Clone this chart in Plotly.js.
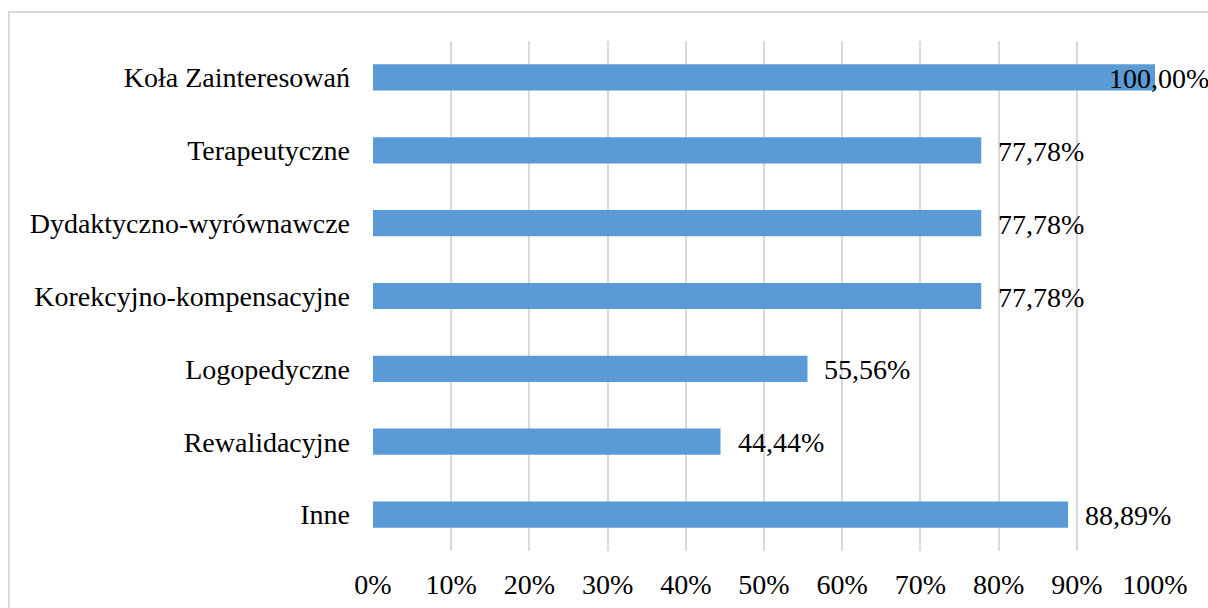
<!DOCTYPE html>
<html>
<head>
<meta charset="utf-8">
<script src="https://cdn.plot.ly/plotly-3.0.1.min.js"></script>
<style>
  html, body { margin: 0; padding: 0; background: #ffffff; }
  #frame { position: absolute; left: 8px; top: 11px; width: 1400px; height: 800px;
           border-left: 2px solid #d9d9d9; border-top: 2px solid #d9d9d9; box-sizing: border-box; }
  #chart { position: absolute; left: 0; top: 0; width: 1208px; height: 608px; }
</style>
</head>
<body>
<div id="frame"></div>
<div id="chart"></div>
<script>
// Categories from bottom to top (Plotly draws first category at the bottom)
const categories = [
  "Inne",
  "Rewalidacyjne",
  "Logopedyczne",
  "Korekcyjno-kompensacyjne",
  "Dydaktyczno-wyrównawcze",
  "Terapeutyczne",
  "Koła Zainteresowań"
];
const values = [88.89, 44.44, 55.56, 77.78, 77.78, 77.78, 100.00];
const valueLabels = ["88,89%", "44,44%", "55,56%", "77,78%", "77,78%", "77,78%", "100,00%"];
const tickValues = [0, 10, 20, 30, 40, 50, 60, 70, 80, 90, 100];
const tickLabels = ["0%", "10%", "20%", "30%", "40%", "50%", "60%", "70%", "80%", "90%", "100%"];

const FONT = "Liberation Serif, Cambria, serif";
const FS = 28;

const trace = {
  type: "bar",
  orientation: "h",
  y: categories,
  x: values,
  marker: { color: "#5b9bd5" },
  hoverinfo: "skip"
};

const annotations = values.map((v, i) => {
  const atEnd = v >= 100;
  return {
    x: v, y: categories[i], xref: "x", yref: "y",
    text: valueLabels[i], showarrow: false,
    xanchor: atEnd ? "center" : "left",
    xshift: atEnd ? 4 : 15,
    yshift: -1,
    font: { family: FONT, size: FS, color: "#000000" }
  };
});

const layout = {
  width: 1208, height: 608,
  margin: { l: 373, r: 53, t: 41, b: 57, pad: 0 },
  paper_bgcolor: "rgba(0,0,0,0)",
  plot_bgcolor: "rgba(0,0,0,0)",
  showlegend: false,
  bargap: 0.64,
  font: { family: FONT, size: FS, color: "#000000" },
  xaxis: {
    range: [0, 100],
    tickmode: "array", tickvals: tickValues, ticktext: tickLabels,
    showgrid: true, gridcolor: "#d9d9d9", gridwidth: 2,
    zeroline: false, showline: false, ticks: "",
    ticklabelstandoff: 14,
    tickfont: { family: FONT, size: FS, color: "#000000" },
    fixedrange: true
  },
  yaxis: {
    type: "category",
    categoryorder: "array", categoryarray: categories,
    showgrid: false, zeroline: false, showline: false, ticks: "",
    ticklabelstandoff: 22,
    tickfont: { family: FONT, size: FS, color: "#000000" },
    fixedrange: true
  },
  annotations: annotations
};

Plotly.newPlot("chart", [trace], layout, { displayModeBar: false, staticPlot: true });
</script>
</body>
</html>
